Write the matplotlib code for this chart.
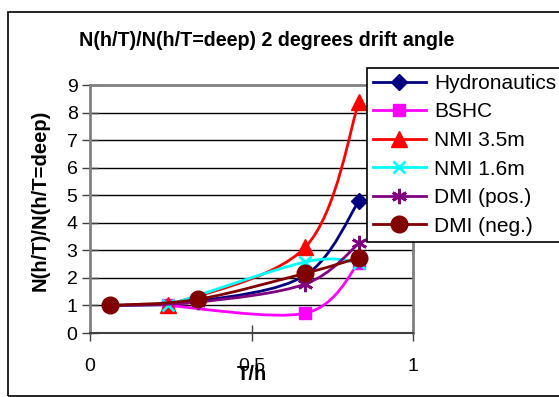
import matplotlib
matplotlib.use("Agg")
import matplotlib.pyplot as plt
from matplotlib.path import Path
from matplotlib.patches import PathPatch, Rectangle
from matplotlib.lines import Line2D
import numpy as np

plt.rcParams['font.family'] = ['Liberation Sans', 'DejaVu Sans']

# data
names = ['Hydronautics', 'BSHC', 'NMI 3.5m', 'NMI 1.6m', 'DMI (pos.)', 'DMI (neg.)']
hyd_x = [0.0625, 0.333, 0.667, 0.833]
hyd_y = [1.0, 1.15, 2.1, 4.8]
bshc_x = [0.24, 0.667, 0.833]
bshc_y = [1.0, 0.72, 2.55]
nmi35_x = [0.24, 0.667, 0.833]
nmi35_y = [1.0, 3.12, 8.4]
nmi16_x = [0.24, 0.667, 0.833]
nmi16_y = [1.0, 2.58, 2.55]
dmip_x = [0.0625, 0.333, 0.667, 0.833]
dmip_y = [1.0, 1.12, 1.78, 3.25]
dmin_x = [0.0625, 0.333, 0.667, 0.833]
dmin_y = [1.0, 1.22, 2.17, 2.73]

colors = ['#000080', '#FF00FF', '#FF0000', '#00FFFF', '#800080', '#800000']
markers = ['D', 's', '^', 'x', (6, 2, 0), 'o']
msizes = [8, 9, 11, 9, 11, 12]
mew = [1, 1, 1, 2, 2, 1]


def smooth_path(x, y):
    # Excel-style smoothed line: Catmull-Rom segments as cubic Beziers
    p = np.column_stack([x, y])
    verts = [p[0]]
    codes = [Path.MOVETO]
    n = len(p)
    for i in range(n - 1):
        p0 = p[i - 1] if i > 0 else p[i]
        p3 = p[i + 2] if i + 2 < n else p[i + 1]
        c1 = p[i] + (p[i + 1] - p0) / 6.0
        c2 = p[i + 1] - (p3 - p[i]) / 6.0
        verts += [c1, c2, p[i + 1]]
        codes += [Path.CURVE4] * 3
    return Path(verts, codes)


W, H = 559, 397
fig = plt.figure(figsize=(W / 100, H / 100), dpi=100)
fig.patches.append(Rectangle((8 / W, 1 - 396 / H), (W + 10 - 8) / W, (396 - 12) / H,
                             transform=fig.transFigure, fill=False, ec='black', lw=1.2))

ax = fig.add_axes([90 / W, 1 - 333 / H, 323 / W, (333 - 85) / H])
ax.set_xlim(0, 1)
ax.set_ylim(0, 9)

series = [(hyd_x, hyd_y), (bshc_x, bshc_y), (nmi35_x, nmi35_y),
          (nmi16_x, nmi16_y), (dmip_x, dmip_y), (dmin_x, dmin_y)]

for i, (xs, ys) in enumerate(series):
    ax.add_patch(PathPatch(smooth_path(xs, ys), fill=False, ec=colors[i], lw=2, zorder=3 + i))
    ax.plot(xs, ys, linestyle='none', marker=markers[i], ms=msizes[i], mec=colors[i],
            mfc=colors[i], mew=mew[i], zorder=3.5 + i, clip_on=False)

ax.set_yticks(range(0, 10))
ax.set_xticks([0, 0.5, 1])
ax.set_xticklabels(['0', '0.5', '1'])
for yv in range(1, 9):
    ax.axhline(yv, color='black', lw=1, zorder=1)
ax.tick_params(axis='y', direction='inout', length=12, width=1, labelsize=14, pad=3, color='#404040')
ax.tick_params(axis='x', direction='inout', length=12, width=1, labelsize=14, pad=12, color='#404040')
for s in ['top', 'right', 'left']:
    ax.spines[s].set_color('#808080')
    ax.spines[s].set_linewidth(2)
ax.spines['bottom'].set_color('#404040')
ax.spines['bottom'].set_linewidth(1.5)

fig.text(267 / W, 1 - 40 / H, 'N(h/T)/N(h/T=deep) 2 degrees drift angle', ha='center', va='center',
         fontsize=14.2, fontweight='bold')
fig.text(40 / W, 1 - 200 / H, 'N(h/T)/N(h/T=deep)', ha='center', va='center', rotation=90,
         fontsize=14.5, fontweight='bold')
fig.text(252 / W, 1 - 374 / H, 'T/h', ha='center', va='center', fontsize=14.5, fontweight='bold')

handles = [Line2D([], [], color=colors[i], lw=2, marker=markers[i], ms=msizes[i],
                  mec=colors[i], mfc=colors[i], mew=mew[i]) for i in range(6)]
leg = fig.legend(handles, names, loc='upper left', bbox_to_anchor=(367 / W, 1 - 68 / H),
                 borderaxespad=0, fontsize=15, handlelength=2.55, handletextpad=0.4,
                 labelspacing=0.46, borderpad=0.28, fancybox=False, framealpha=1,
                 edgecolor='black')
leg.get_frame().set_linewidth(1.2)

fig.savefig('out.png', dpi=100)
